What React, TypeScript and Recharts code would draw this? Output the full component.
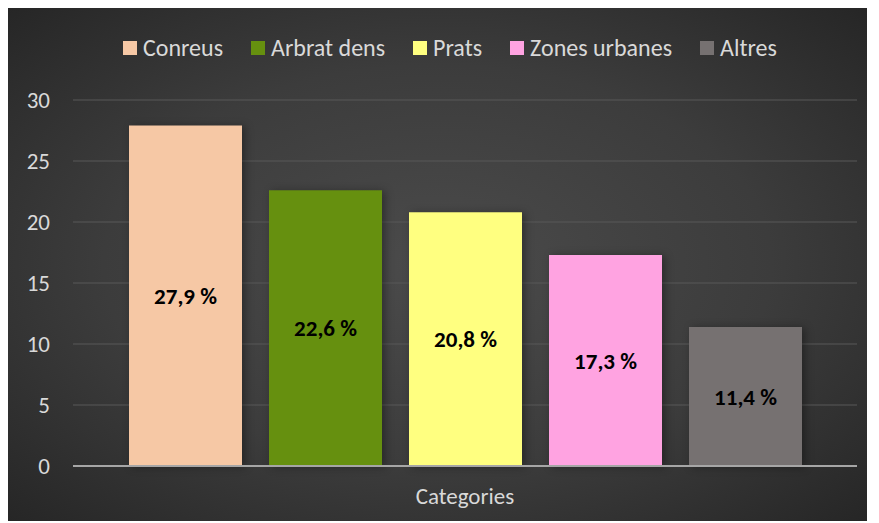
import { BarChart, Bar, XAxis, YAxis, CartesianGrid, LabelList } from 'recharts';

const categories = ['Categories'];
const seriesNames = ['Conreus', 'Arbrat dens', 'Prats', 'Zones urbanes', 'Altres'];
const seriesValues = [27.9, 22.6, 20.8, 17.3, 11.4];
const seriesColors = ['#f6c8a5', '#66900f', '#ffff80', '#ffa3e1', '#767171'];
const yTicks = [0, 5, 10, 15, 20, 25, 30];

const data = categories.map((c) => {
  const row: Record<string, string | number> = { name: c };
  seriesNames.forEach((s, i) => { row[s] = seriesValues[i]; });
  return row;
});

const FONT = 'Carlito, "Open Sans", sans-serif';
const fmt = (v: number) => `${v.toFixed(1).replace('.', ',')} %`;

export default function App() {
  return (
    <div style={{
      position: 'relative', width: 859, height: 513,
      background: 'radial-gradient(ellipse at 50% 50%, #4b4b4b 0%, #3c3c3c 55%, #262626 100%)',
      fontFamily: FONT,
    }}>
      {/* Legend */}
      <div style={{
        position: 'absolute', top: 25, left: 115, display: 'flex', gap: 28, lineHeight: '29px',
      }}>
        {seriesNames.map((s, i) => (
          <div key={s} style={{ display: 'flex', alignItems: 'center', gap: 6 }}>
            <div style={{ width: 14, height: 14, background: seriesColors[i] }} />
            <span style={{ fontSize: 24, color: '#d9d9d9' }}>{s}</span>
          </div>
        ))}
      </div>
      <BarChart
        width={859}
        height={513}
        data={data}
        margin={{ top: 92, right: 10, bottom: 0, left: 0 }}
        barCategoryGap={56}
        barGap={27}
      >
        <CartesianGrid vertical={false} stroke="#585858" strokeWidth={1} />
        <XAxis
          dataKey="name"
          height={55}
          axisLine={{ stroke: '#a6a6a6', strokeWidth: 2 }}
          tickLine={false}
          tickSize={0}
          tickMargin={22}
          tick={{ fill: '#d9d9d9', fontSize: 23, fontFamily: FONT }}
        />
        <YAxis
          width={65}
          domain={[0, 30]}
          ticks={yTicks}
          axisLine={false}
          tickLine={false}
          tickSize={0}
          tickMargin={23}
          tick={{ fill: '#d9d9d9', fontSize: 23, fontFamily: FONT }}
        />
        {seriesNames.map((s, i) => (
          <Bar
            key={s}
            dataKey={s}
            fill={seriesColors[i]}
            isAnimationActive={false}
            style={{ filter: 'drop-shadow(3px 1px 4px rgba(0,0,0,0.35))' }}
          >
            <LabelList
              dataKey={s}
              position="center"
              formatter={(v: any) => fmt(Number(v))}
              fill="#000"
              fontWeight="bold"
              fontSize={23}
              fontFamily={FONT}
            />
          </Bar>
        ))}
      </BarChart>
    </div>
  );
}
